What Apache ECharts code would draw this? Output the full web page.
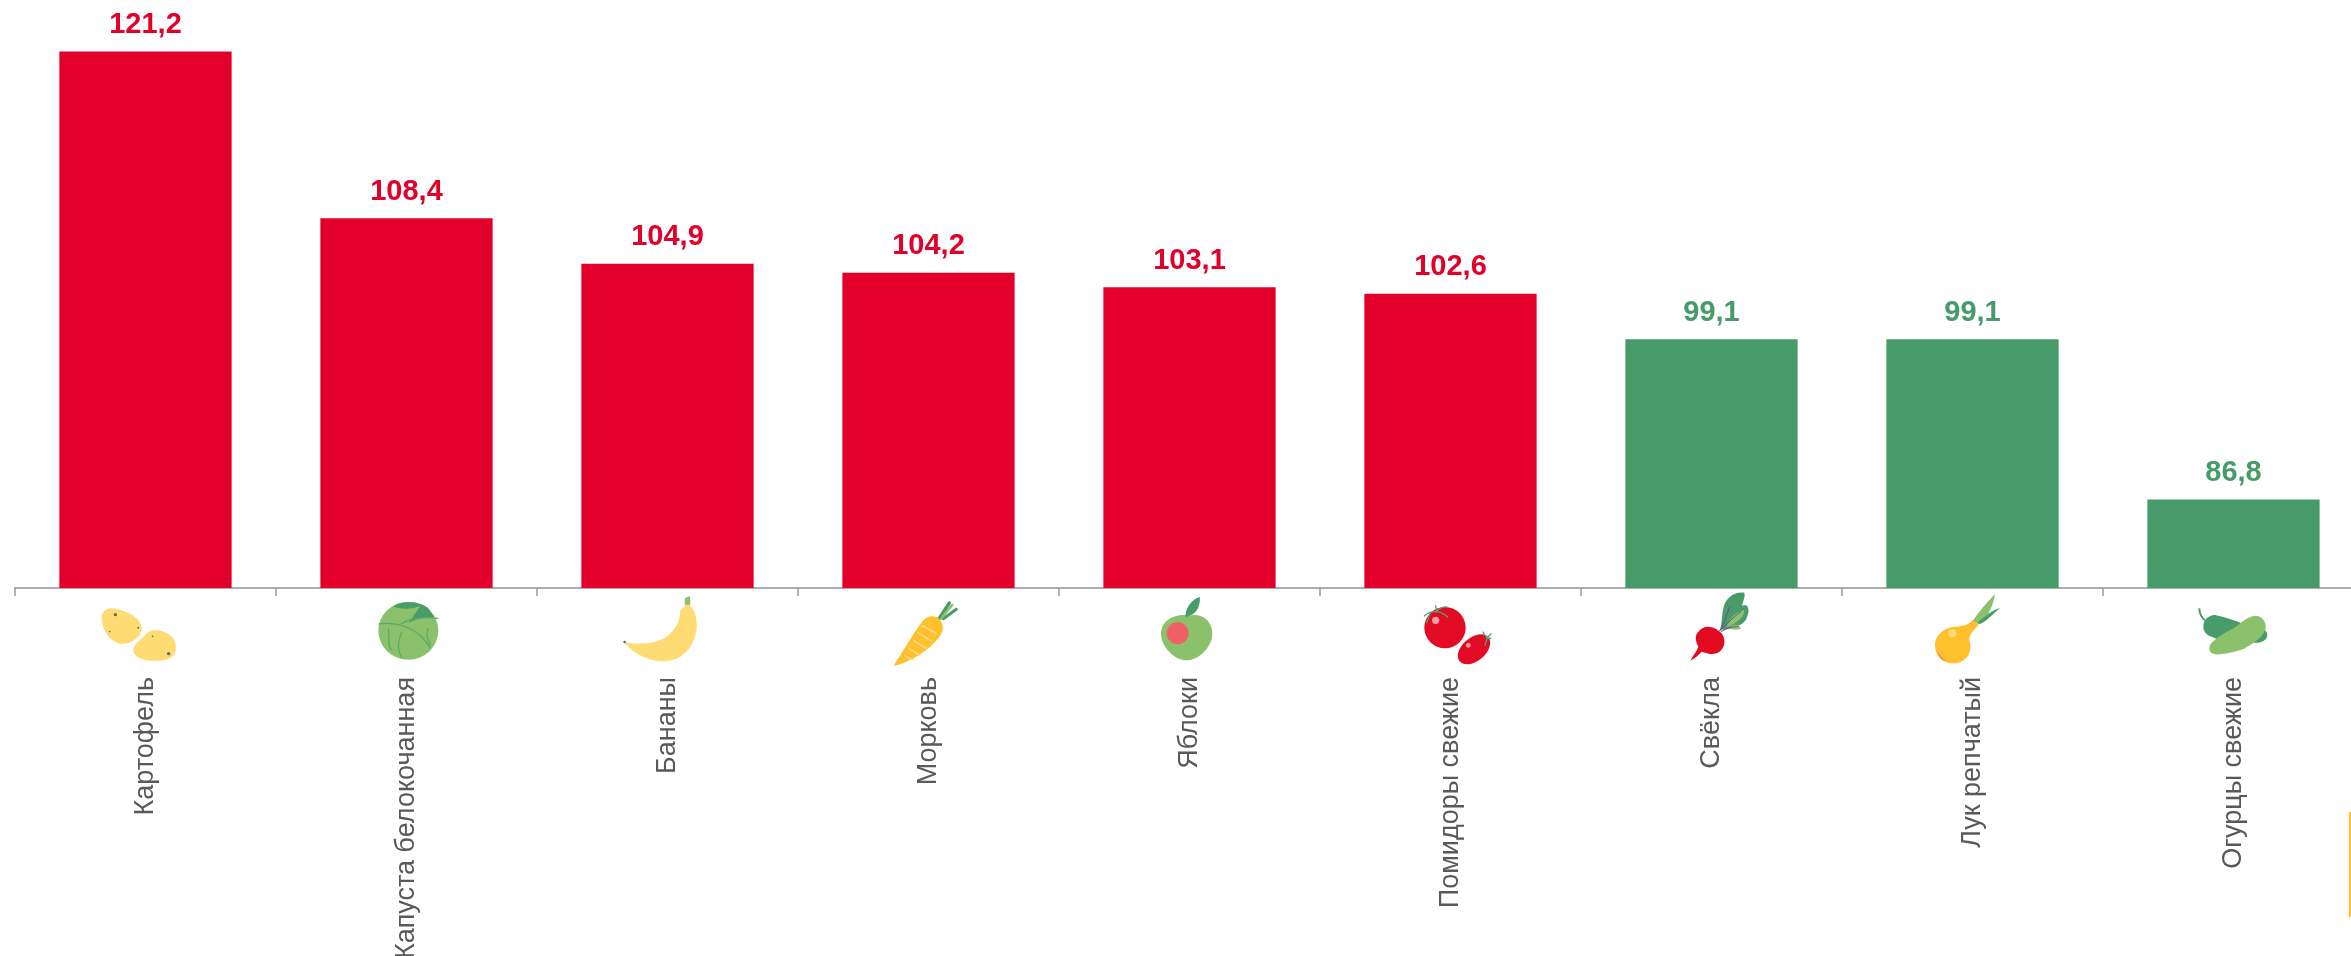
<!DOCTYPE html>
<html><head><meta charset="utf-8">
<style>html,body{margin:0;padding:0;background:#fff;overflow:hidden}#c{width:2351px;height:956px}</style>
<script src="https://cdn.jsdelivr.net/npm/echarts@6/dist/echarts.min.js"></script>
</head><body><div id="c"></div>
<script>
const categories=['Картофель','Капуста белокочанная','Бананы','Морковь','Яблоки','Помидоры свежие','Свёкла','Лук репчатый','Огурцы свежие'];
const priceIndex=[121.2,108.4,104.9,104.2,103.1,102.6,99.1,99.1,86.8];
const RED='#E2002B',GREEN='#479B69',Y='#FFDC73',O='#FFC02E',LG='#8BC16B',DG='#479C69',TR='#E30A26';
const icons=[
[4.5,5,`<path fill="${Y}" d="M5,70C5,45 25,35 50,42C85,50 125,70 125,100C125,125 95,147 65,147C35,147 5,105 5,70Z"/><path fill="${Y}" d="M100,165C100,145 130,130 140,115C155,100 190,105 210,120C230,135 232,165 222,180C205,200 160,200 135,195C115,190 100,180 100,165Z"/><g fill="#666"><circle cx="46" cy="59" r="5"/><circle cx="115" cy="98" r="3"/><circle cx="29" cy="110" r="2.5"/><circle cx="158" cy="124" r="2.5"/><circle cx="206" cy="176" r="5"/></g>`],
[-256.5,5,`<ellipse cx="925" cy="107" rx="90" ry="87" fill="${LG}"/><path fill="${DG}" d="M880,35C900,18 955,15 985,40L1003,66C975,64 945,72 925,85L962,32C935,45 900,42 880,35Z"/><g fill="none" stroke="#56A86B" stroke-width="3.5"><path d="M835,87C880,80 950,90 992,160"/><path d="M903,87C930,70 970,65 1015,70"/><path d="M865,100C870,130 860,150 875,165"/><path d="M905,110C895,140 890,160 905,188"/><path d="M985,100C975,120 985,130 990,150"/></g>`],
[-2.5,2,`<path fill="${Y}" d="M25,150C60,158 130,160 165,125C190,100 195,80 195,60C197,50 207,48 212,38L224,38C228,45 240,55 243,75C252,120 235,170 195,195C160,215 115,210 80,192C55,180 40,165 25,150Z"/><path fill="${LG}" d="M209,38L210,18L225,12L226,38Z"/><circle cx="29" cy="150" r="4" fill="#666"/>`],
[-263.5,2,`<g fill="none" stroke-linecap="round"><path stroke="${DG}" stroke-width="10" d="M972,80L1003,33"/><path stroke="${DG}" stroke-width="9" d="M985,80L1024,52"/><path stroke="${LG}" stroke-width="7" d="M978,80L1012,38"/></g><path fill="${O}" d="M835,222C870,170 900,115 925,85C945,65 975,70 983,100C988,125 965,145 945,165C910,195 870,215 835,222Z"/><g stroke="#FFE08C" stroke-width="4"><path d="M920,100L965,125"/><path d="M908,122L950,148"/><path d="M895,145L935,170"/><path d="M880,168L915,190"/><path d="M868,190L895,205"/></g>`],
[15.5,2,`<path fill="${LG}" d="M95,70C75,65 20,75 18,125C18,165 60,205 95,205C130,205 172,165 172,125C172,85 140,65 110,70C105,72 100,72 95,70Z"/><circle cx="68" cy="124" r="33" fill="#EE6166"/><path fill="${DG}" d="M91,75C92,45 110,22 135,15C135,45 125,70 91,75Z"/>`],
[-245.5,2,`<circle cx="870" cy="107" r="62" fill="${TR}"/><circle cx="842" cy="85" r="11" fill="#F59DA8"/><ellipse cx="957" cy="172" rx="56" ry="35" transform="rotate(-40 957 172)" fill="${TR}"/><circle cx="940" cy="160" r="7" fill="#F59DA8"/><g fill="none" stroke="#4CA66F" stroke-width="4" stroke-linecap="round"><path d="M808,72C820,60 835,58 845,58C855,60 868,65 878,75"/><path d="M842,42L845,60"/><path d="M845,58C855,48 865,44 875,45"/><path d="M825,65L815,92"/><path d="M984,120C990,135 998,140 1008,140"/><path d="M998,135L990,160"/><path d="M995,138L1008,125"/></g>`],
[23.5,0,`<path fill="${DG}" d="M105,120C112,100 110,60 120,40C130,20 150,5 178,8C182,25 170,38 172,48C185,38 196,55 188,75C182,105 150,112 125,118Z"/><path fill="${LG}" d="M125,112C130,90 150,65 178,60C180,80 155,100 125,112Z"/><path fill="${LG}" d="M128,118C140,100 160,100 168,115C160,122 145,118 128,118Z"/><g fill="none" stroke="#6B4A9C" stroke-width="3"><path d="M100,125C125,105 150,75 168,65"/><path d="M105,122C120,100 125,70 135,50"/><path d="M108,125C125,115 145,108 160,110"/></g><path fill="#E30A20" d="M40,125C60,100 90,110 110,130C125,150 120,180 95,190C80,195 65,190 50,185C40,195 30,205 16,212C25,195 35,185 40,170C30,150 30,135 40,125Z"/>`],
[-237.5,0,`<path fill="${LG}" d="M862,95C880,65 905,40 930,12C925,50 905,85 885,100Z"/><path fill="${DG}" d="M875,100C900,80 920,60 945,55C925,70 905,95 885,102Z"/><path fill="${O}" d="M750,165C750,135 780,112 810,110C835,108 852,105 862,90L882,102C868,122 852,130 853,150C865,185 845,220 805,220C770,220 750,195 750,165Z"/><path fill="#EE6166" d="M757,187C762,200 772,210 785,215C770,205 765,195 757,187Z"/><circle cx="802" cy="130" r="12" fill="${Y}"/>`],
[6.5,10,`<path fill="none" stroke="${DG}" stroke-width="6" d="M28,25C28,40 35,55 45,60"/><path fill="${DG}" d="M40,80C40,60 55,45 75,45C100,50 130,60 155,70L225,90C240,105 230,125 205,128C170,128 130,125 100,125L65,110C50,105 40,95 40,80Z"/><path fill="${LG}" d="M60,135C70,120 100,100 130,85C150,72 170,50 195,47C215,47 230,65 227,85C222,110 190,130 165,145C140,155 100,165 75,163C60,160 55,150 60,135Z"/>`]
];
const iconUri=([tx,ty,body])=>'image://data:image/svg+xml;charset=utf-8,'+encodeURIComponent(
`<svg xmlns="http://www.w3.org/2000/svg" width="100" height="80" viewBox="0 0 100 80"><g transform="translate(${tx},${ty}) scale(0.33333)">${body}</g></svg>`);
const comma=v=>v.toFixed(1).replace('.',',');
const colorOf=v=>v>=100?RED:GREEN;
const chart=echarts.init(document.getElementById('c'),null,{renderer:'canvas'});
chart.setOption({
 animation:false,
 grid:{left:15,top:2,width:2349,height:586,containLabel:false,outerBoundsMode:'none'},
 xAxis:{type:'category',data:categories,boundaryGap:true,
  axisLine:{lineStyle:{color:'#ADADAD',width:2}},
  axisTick:{show:true,length:8,lineStyle:{color:'#999',width:1.5}},
  axisLabel:{interval:0,rotate:90,margin:89,padding:[4,0,0,0],fontFamily:'Liberation Sans',fontSize:27,color:'#595959'}},
 yAxis:{type:'value',min:80,max:125,show:false,splitLine:{show:false}},
 series:[
  {type:'bar',barCategoryGap:'34%',
   data:priceIndex.map(v=>({value:v,itemStyle:{color:colorOf(v)},label:{color:colorOf(v)}})),
   label:{show:true,position:'top',distance:12,fontFamily:'Liberation Sans',fontWeight:'bold',fontSize:29,formatter:p=>comma(p.value)}},
  {type:'scatter',silent:true,clip:false,z:5,itemStyle:{opacity:1},
   data:categories.map((c,i)=>({value:[c,80],symbol:iconUri(icons[i])})),
   symbolSize:[100,80],symbolOffset:[0,42]}
 ],
 graphic:[{type:'rect',shape:{x:2349,y:812,width:2,height:105},style:{fill:'#FFC02E'},silent:true}]
});
</script></body></html>
